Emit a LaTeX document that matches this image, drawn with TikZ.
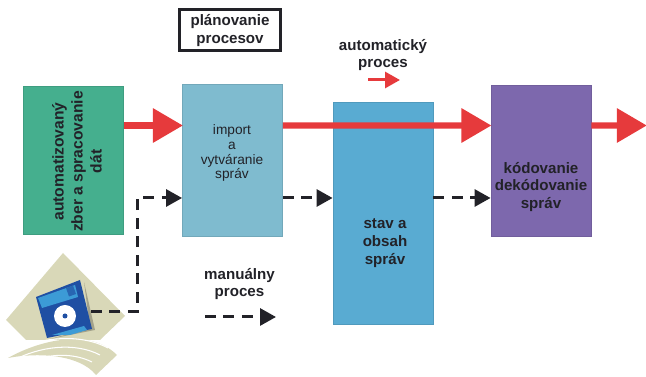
\documentclass[tikz,border=0pt]{standalone}
\usepackage{fontspec}
\setmainfont{Liberation Sans}
\usetikzlibrary{arrows.meta}
\definecolor{cgreen}{HTML}{45AF8E}
\definecolor{cimport}{HTML}{7FBBCF}
\definecolor{cstav}{HTML}{59ABD2}
\definecolor{ckod}{HTML}{7D68AD}
\definecolor{cred}{HTML}{E63A3C}
\definecolor{ctxt}{HTML}{222228}
\definecolor{ctan}{HTML}{D9D8B8}
\definecolor{cdisk}{HTML}{1F4FA3}
\definecolor{cshut}{HTML}{3C9BD6}
\tikzset{
  blok/.style={draw=#1!90!black, line width=0.5pt, fill=#1, minimum width=2cm, inner sep=0pt},
  txt/.style={text=ctxt, align=center, font=\bfseries\fontsize{8.6}{10.2}\selectfont, inner sep=0pt},
  txtv/.style={text=ctxt, align=center, font=\bfseries\fontsize{8.9}{10.8}\selectfont, inner sep=0pt},
  txts/.style={text=ctxt, align=center, font=\fontsize{7.8}{8}\selectfont, inner sep=0pt},
  cerv/.style={draw=cred, line width=0.125cm, -{Triangle[length=0.6cm,width=0.66cm,fill=cred]}, shorten >=-0.5pt},
  cierna/.style={draw=ctxt, line width=0.06cm, dash pattern=on 0.22cm off 0.15cm, -{Triangle[length=0.32cm,width=0.34cm,fill=ctxt]}},
}
\begin{document}
\begin{tikzpicture}[x=0.02cm,y=-0.02cm]
\useasboundingbox (0,0) rectangle (646,377);
\node[blok=cgreen, minimum height=2.96cm] (bid0) at (73.5,160){};
\node[blok=cimport, minimum height=3.04cm] (bid1) at (232.5,160){};
\node[blok=cstav, minimum height=4.44cm] (bid2) at (383,213){};
\node[blok=ckod, minimum height=3.02cm] (bid3) at (541,160.5){};
\node[draw=ctxt, line width=0.06cm, minimum width=2.04cm, minimum height=0.82cm, txt] (plan) at (230,30.5){plánovanie\\procesov};

\node[txtv, rotate=90] (t0) at (77,161.5){automatizovaný\\zber a spracovanie\\dát};
\node[txts] (t1) at (232,153){import\\[0.5pt]a\\[0.5pt]vytváranie\\[0.5pt]správ};
\node[txt] (t2) at (385,243){stav a\\obsah\\správ};
\node[txt] (t3) at (541,187){kódovanie\\dekódovanie\\správ};
\node[txt] (t4) at (383,55){automatický\\proces};
\node[txt] (t5) at (239.5,284){manuálny\\proces};

% cervene sipky
\coordinate (r0) at (646,125.5);
\draw[cerv] ([yshift=0.69cm]bid0.east) -- ([yshift=0.69cm]bid1.west);
\draw[cerv] ([yshift=0.69cm]bid1.east) -- ([yshift=0.7cm]bid3.west);
\draw[cerv] ([yshift=0.7cm]bid3.east) -- (r0);
\coordinate (r1) at (368,80);
\coordinate (r2) at (400,80);
\draw[draw=cred, line width=0.06cm, -{Triangle[length=0.3cm,width=0.32cm,fill=cred]}] (r1) -- (r2);

% disketa
\fill[ctan] (63,253) -- (125,316) -- (100,340) -- (26,340) -- (6,320) -- cycle;
\fill[ctan] (8,358) .. controls (40,340) and (90,328) .. (117,355) -- (96,375) .. controls (80,355) and (40,352) .. (8,358) -- cycle;
\draw[white, line width=0.6pt] (10,352) .. controls (40,337) and (80,333) .. (108,348);
\draw[white, line width=0.6pt] (12,361) .. controls (40,346) and (75,342) .. (100,355);
\draw[white, line width=0.6pt] (16,368) .. controls (40,354) and (70,351) .. (92,362);
\fill[ctan!75!black] (84,282) -- (95,330) -- (50,339) -- (90,328) -- cycle;
\fill[cdisk] (36,297) -- (80,280) -- (92,329) -- (47,338) -- cycle;
\fill[cshut] (38,298) -- (75,285) -- (78,297) -- (42,308) -- cycle;
\fill[cdisk!70!cshut] (66,288) -- (73,285.5) -- (76,294) -- (69,296.5) -- cycle;
\fill[cshut] (52,335) -- (84,326) -- (87,330) -- (70,335) -- cycle;
\fill[white] (65,316) circle (11);
\fill[cdisk] (65,316) circle (2.5);
\coordinate (d0) at (91,312);
\coordinate (d1) at (137,312);
\coordinate (d2) at (137,198);

% ciarkovane sipky
\draw[cierna] (d0) -- (d1) -- (d2) -- (d2 -| bid1.west);
\draw[cierna] (bid1.east |- d2) -- (d2 -| bid2.west);
\draw[cierna] (bid2.east |- d2) -- (d2 -| bid3.west);
\coordinate (l0) at (205,317);
\coordinate (l1) at (276,317);
\draw[cierna] (l0) -- (l1);
\end{tikzpicture}
\end{document}
